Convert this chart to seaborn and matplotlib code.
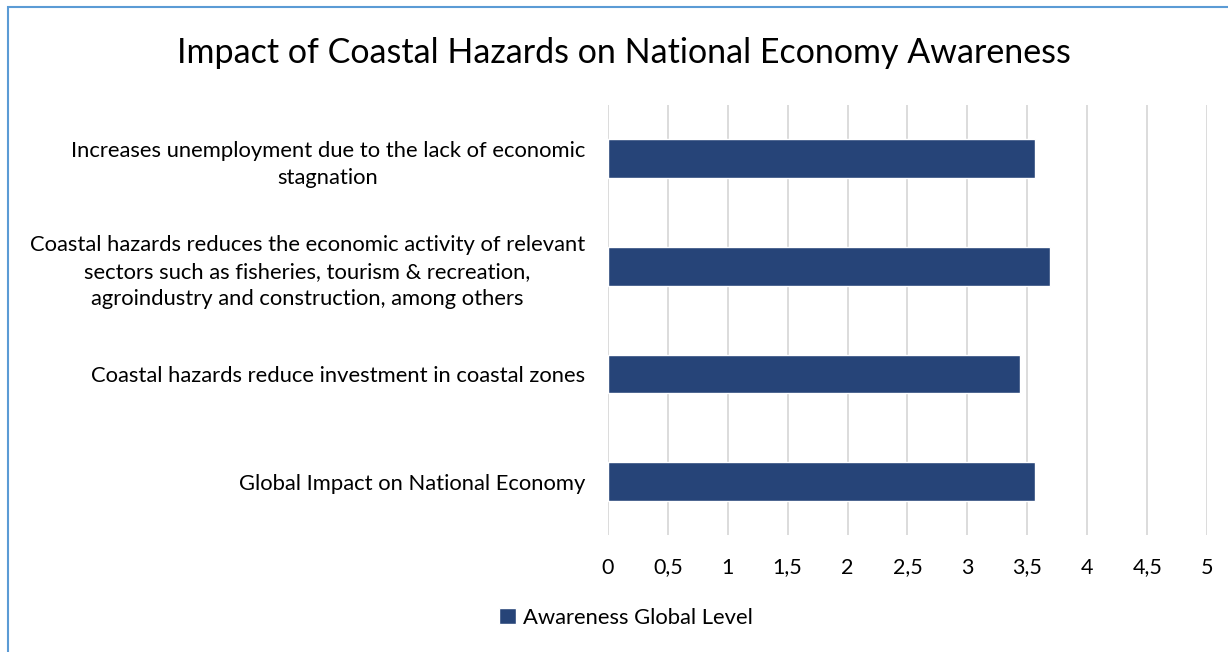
import pandas as pd
import matplotlib.pyplot as plt
import seaborn as sns
from matplotlib.patches import Rectangle

categorias = [
    "Increases unemployment due to the lack of economic\nstagnation",
    "Coastal hazards reduces the economic activity of relevant\nsectors such as fisheries, tourism & recreation,\nagroindustry and construction, among others",
    "Coastal hazards reduce investment in coastal zones",
    "Global Impact on National Economy",
]
valores = [3.56, 3.69, 3.44, 3.56]
ticks = [0, 0.5, 1, 1.5, 2, 2.5, 3, 3.5, 4, 4.5, 5]
tick_labels = ["0", "0,5", "1", "1,5", "2", "2,5", "3", "3,5", "4", "4,5", "5"]

df = pd.DataFrame({"categoria": categorias, "valor": valores})

sns.set_style("white")
plt.rcParams["font.family"] = ["Lato", "DejaVu Sans"]
plt.rcParams["text.color"] = "black"
plt.rcParams["xtick.color"] = "black"
plt.rcParams["ytick.color"] = "black"

fig = plt.figure(figsize=(12.28, 6.52), dpi=100)
ax = fig.add_axes([0.495, 0.179, 0.488, 0.66])

sns.barplot(data=df, x="valor", y="categoria", orient="h", color="#264478",
            width=0.36, saturation=1, ax=ax, label="Awareness Global Level")
handles, labels = ax.get_legend_handles_labels()
if ax.get_legend() is not None:
    ax.get_legend().remove()

ax.set_xlim(0, 5)
ax.set_ylim(3.5, -0.5)
ax.set_xticks(ticks)
ax.set_xticklabels(tick_labels, fontsize=15.5)
ax.xaxis.grid(True, color="#d9d9d9", linewidth=1.3)
ax.set_axisbelow(True)
for s in ax.spines.values():
    s.set_visible(False)
ax.tick_params(axis="x", length=0, pad=16)
ax.tick_params(axis="y", length=0, pad=16.5, labelsize=15.8)
for lbl in ax.get_yticklabels():
    lbl.set_multialignment("center")
    lbl.set_linespacing(1.45)
ax.set_xlabel("")
ax.set_ylabel("")

fig.text(0.508, 0.918, "Impact of Coastal Hazards on National Economy Awareness",
         ha="center", va="center", fontsize=24.5)

fig.legend(handles, labels, loc="center", bbox_to_anchor=(0.51, 0.052), frameon=False,
           fontsize=15.8, handlelength=0.75, handleheight=0.75, handletextpad=0.35)

fig.add_artist(Rectangle((0.0067, -0.05), 1.1, 1.04, transform=fig.transFigure,
                         fill=False, edgecolor="#5b9bd5", linewidth=1.5))

fig.savefig("out.png", dpi=100)
